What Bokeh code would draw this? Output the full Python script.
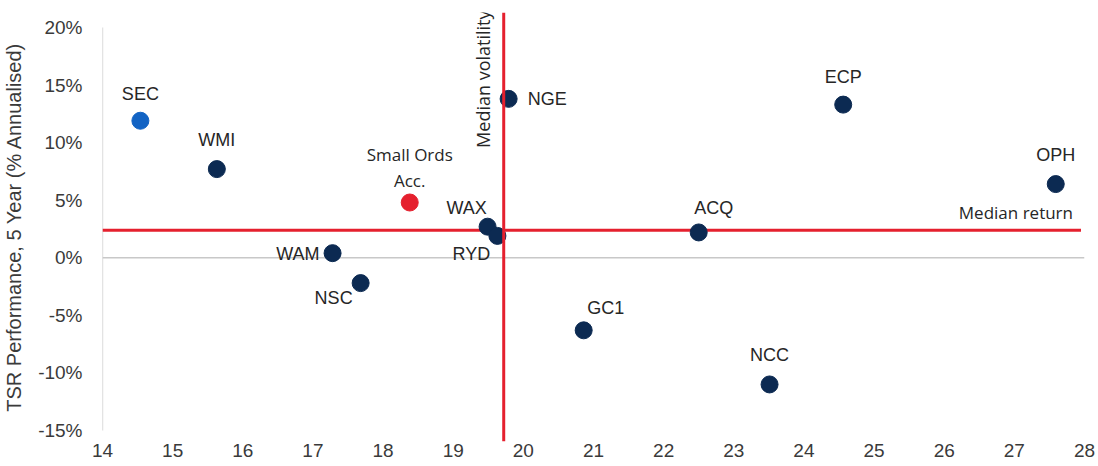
from bokeh.plotting import figure
from bokeh.models import ColumnDataSource, Range1d, FixedTicker, CustomJSTickFormatter, Span, Label
from bokeh.embed import file_html
from bokeh.resources import INLINE

# ---- data ----
names = ["SEC", "WMI", "Small Ords\nAcc.", "WAX", "RYD", "NGE", "WAM", "NSC", "GC1", "ACQ", "NCC", "ECP", "OPH"]
volatility = [14.54, 15.63, 18.38, 19.49, 19.63, 19.79, 17.28, 17.68, 20.86, 22.50, 23.51, 24.56, 27.59]
tsr = [11.9, 7.7, 4.8, 2.7, 1.9, 13.8, 0.4, -2.2, -6.3, 2.2, -11.0, 13.3, 6.4]
groups = ["peer_hi", "peer", "index", "peer", "peer", "peer", "peer", "peer", "peer", "peer", "peer", "peer", "peer"]
median_volatility = 19.72
median_return = 2.4
x_ticks = list(range(14, 29))
y_ticks = [-15, -10, -5, 0, 5, 10, 15, 20]

# ---- styles ----
group_colors = {"peer": "#0c2a52", "peer_hi": "#1263c4", "index": "#e5202e"}
label_dx = [0, 0, 0, -21, -26, 19, -13, -27, 22, 15, 0, 0, 0]
label_dy = [-27, -29, -35, -19, 18, 0, 1, 15, -22, -24, -29, -28, -29]
label_align = ["center", "center", "center", "center", "center", "left", "right", "center", "center", "center", "center", "center", "center"]
label_font = ["Liberation Sans"] * 13
label_font[2] = "Open Sans"
label_size = ["18px"] * 13
label_size[2] = "17px"

src = ColumnDataSource(dict(
    x=volatility, y=tsr, name=names,
    color=[group_colors[g] for g in groups],
    dx=label_dx, dy=label_dy, align=label_align, font=label_font, size=label_size,
))

p = figure(width=1098, height=466, output_backend="svg", toolbar_location=None,
           x_range=Range1d(14, 28), y_range=Range1d(-15.955, 21.30),
           min_border_left=102, min_border_right=14, min_border_top=12, min_border_bottom=25)
p.outline_line_color = None
p.background_fill_color = "white"
p.border_fill_color = "white"
p.grid.visible = False

# axes
p.xaxis.ticker = FixedTicker(ticks=x_ticks)
p.xaxis.axis_line_color = None
p.xaxis.major_tick_line_color = None
p.xaxis.minor_tick_line_color = None
p.xaxis.major_tick_out = 0
p.xaxis.major_tick_in = 0
p.xaxis.minor_tick_out = 0
p.xaxis.major_label_standoff = 2
p.xaxis.major_label_text_font = "Liberation Sans"
p.xaxis.major_label_text_font_size = "19px"
p.xaxis.major_label_text_color = "#3a3a3a"

p.yaxis.ticker = FixedTicker(ticks=y_ticks)
p.yaxis.formatter = CustomJSTickFormatter(code="return tick.toFixed(0) + '%';")
p.yaxis.axis_line_color = None
p.yaxis.major_tick_line_color = None
p.yaxis.minor_tick_line_color = None
p.yaxis.major_tick_out = 0
p.yaxis.major_tick_in = 0
p.yaxis.minor_tick_out = 0
p.yaxis.major_label_standoff = 20
p.yaxis.major_label_text_font = "Liberation Sans"
p.yaxis.major_label_text_font_size = "19px"
p.yaxis.major_label_text_color = "#3a3a3a"
p.yaxis.axis_label = "TSR Performance, 5 Year (% Annualised)"
p.yaxis.axis_label_text_font = "Liberation Sans"
p.yaxis.axis_label_text_font_style = "normal"
p.yaxis.axis_label_text_font_size = "20px"
p.yaxis.axis_label_text_color = "#3a3a3a"
p.yaxis.axis_label_standoff = 10

# axis lines drawn as segments within data range
p.segment(x0=[14], y0=[min(y_ticks)], x1=[14], y1=[max(y_ticks)], line_color="#c8c8c8", line_width=1.3)
p.segment(x0=[min(x_ticks)], y0=[0], x1=[max(x_ticks)], y1=[0], line_color="#c8c8c8", line_width=1.3)

# median lines
p.add_layout(Span(location=median_volatility, dimension="height", line_color="#e5202e", line_width=3))
p.segment(x0=[14], y0=[median_return], x1=[27.95], y1=[median_return], line_color="#e5202e", line_width=3)

p.add_layout(Label(x=median_volatility, y=21.30, text="Median volatility", angle=90, angle_units="deg",
                   x_offset=-9, y_offset=2, text_align="right", text_baseline="bottom",
                   text_font="Open Sans", text_font_size="18px", text_color="#262626"))
p.add_layout(Label(x=27.95, y=median_return, text="Median return", x_offset=-8, y_offset=6,
                   text_align="right", text_baseline="bottom",
                   text_font="Open Sans", text_font_size="17px", text_color="#262626"))

# points
p.scatter("x", "y", source=src, size=17, fill_color="color", line_color="color")

# labels
p.text("x", "y", text="name", source=src, x_offset="dx", y_offset="dy", text_align="align",
       text_baseline="middle", text_font="font", text_font_size="size", text_color="#262626",
       text_line_height=1.1)

open("out.html", "w").write(file_html(p, INLINE))
